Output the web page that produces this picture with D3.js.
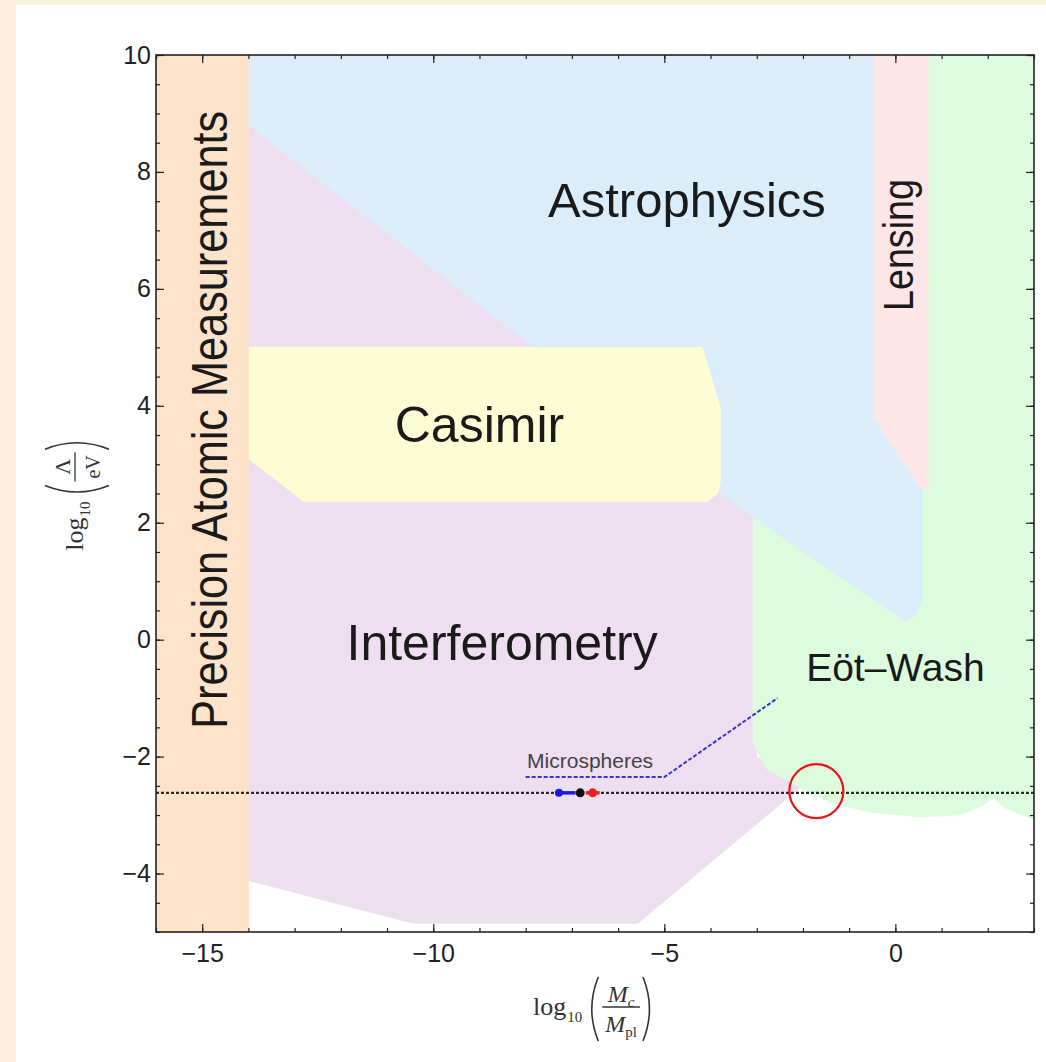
<!DOCTYPE html>
<html>
<head>
<meta charset="utf-8">
<script src="https://cdn.jsdelivr.net/npm/d3@7"></script>
<style>
  body { margin: 0; background: #fbf0dc; }
  svg { display: block; }
  .tick text { font-family: "Liberation Sans", Arial, sans-serif; font-size: 25px; fill: #222; }
  .tick line { stroke: #222; stroke-width: 1.2; }
  .region-label { font-family: "Liberation Sans", Arial, sans-serif; fill: #1a1a1a; }
  .mathlab text { font-family: "Liberation Serif", "Times New Roman", serif; fill: #333; }
  .mathlab path, .mathlab line { stroke: #333; fill: none; }
</style>
</head>
<body>
<div id="chart"></div>
<script>
// axis ticks
const xTicksMajor = [-15, -10, -5, 0];
const yTicksMajor = [-4, -2, 0, 2, 4, 6, 8, 10];
const xTicksMinor = d3.range(-16, 3.01, 1);
const yTicksMinor = d3.range(-5, 10.01, 0.5);

// excluded regions, [log10(Mc/Mpl), log10(Lambda/eV)]
const atomic = [[-16, 10], [-14, 10], [-14, -5], [-16, -5]];
const interferometry = [[-14, 9.0], [-3.0, 2.3], [-3.0, -2.0], [-2.0, -2.49], [-5.57, -4.85], [-10.44, -4.85], [-14, -4.12]];
const eotWash = [[-3.08, 2.3], [0.5, 2.3], [0.5, 10], [3, 10], [3, -3.08], [2.38, -2.88], [2.12, -2.71], [1.88, -2.84],
                 [1.4, -3.0], [0.54, -3.03], [-0.55, -2.95], [-1.41, -2.78], [-2.06, -2.54], [-2.8, -2.2], [-3.08, -1.75]];
const astrophysics = [[-14, 10], [-0.48, 10], [-0.48, 3.81], [0.58, 2.56], [0.58, 0.68], [0.43, 0.42], [0.21, 0.32],
                      [-3.08, 2.1], [-3.85, 2.55], [-14, 8.8]];
const casimir = [[-14, 5], [-4.18, 5], [-3.79, 3.98], [-3.79, 2.68], [-3.85, 2.5], [-4.07, 2.36], [-12.8, 2.36], [-14, 3.1]];
const lensing = [[-0.48, 10], [0.71, 10], [0.71, 2.6], [0.58, 2.56], [-0.48, 3.81]];

const microspheres = [[-8, -2.35], [-5, -2.35], [-2.55, -1.0]];
const dottedLevel = -2.62;
const bluePoint = [-7.28, -7.35, -6.92];   // centre, from, to
const blackPoint = [-6.82];
const redPoint = [-6.55, -6.7, -6.4];
const circleMark = [-1.71, -2.59];

const regionNames = ["Astrophysics", "Casimir", "Interferometry", "E\u00f6t\u2013Wash", "Lensing", "Precision Atomic Measurements", "Microspheres"];

const W = 1046, H = 1062;
const margin = {top: 55, right: 12, bottom: 130, left: 156};
const width = W - margin.left - margin.right;
const height = H - margin.top - margin.bottom;

const svg = d3.select("#chart").append("svg").attr("width", W).attr("height", H);
svg.append("rect").attr("width", W).attr("height", H).attr("fill", "#fbf0dc");
svg.append("rect").attr("x", 16).attr("y", 5).attr("width", W - 16).attr("height", H - 5).attr("fill", "#fff");

const g = svg.append("g").attr("transform", `translate(${margin.left},${margin.top})`);

const x = d3.scaleLinear().domain([-16, 3]).range([0, width]);
const y = d3.scaleLinear().domain([-5, 10]).range([height, 0]);

g.append("clipPath").attr("id", "plotclip")
  .append("rect").attr("width", width).attr("height", height);

const plot = g.append("g").attr("clip-path", "url(#plotclip)");

const poly = d3.line().x(d => x(d[0])).y(d => y(d[1])).curve(d3.curveLinearClosed);
const path = d3.line().x(d => x(d[0])).y(d => y(d[1]));

const regions = [
  {pts: interferometry, fill: "#eedff0"},
  {pts: eotWash, fill: "#ddfbdd"},
  {pts: astrophysics, fill: "#dbecfb"},
  {pts: casimir, fill: "#fdfdd5"},
  {pts: lensing, fill: "#fde6e8"},
  {pts: atomic, fill: "#fde3c9"}
];
plot.selectAll("path.region").data(regions).enter().append("path")
  .attr("class", "region")
  .attr("d", d => poly(d.pts))
  .attr("fill", d => d.fill)
  .attr("stroke", d => d.fill)
  .attr("stroke-width", 0.8);

// dotted reference line
plot.append("path").datum([[-16, dottedLevel], [3, dottedLevel]])
  .attr("d", path).attr("fill", "none")
  .attr("stroke", "#2a2a2a").attr("stroke-width", 2.2).attr("stroke-dasharray", "3,2");

// microspheres projection
plot.append("path").datum(microspheres)
  .attr("d", path).attr("fill", "none")
  .attr("stroke", "#3636c8").attr("stroke-width", 2).attr("stroke-dasharray", "4,2");

// measured points
plot.append("line").attr("x1", x(bluePoint[1])).attr("x2", x(bluePoint[2]))
  .attr("y1", y(dottedLevel)).attr("y2", y(dottedLevel))
  .attr("stroke", "#1a1ae0").attr("stroke-width", 3.5);
plot.append("circle").attr("cx", x(bluePoint[0])).attr("cy", y(dottedLevel)).attr("r", 4).attr("fill", "#1a1ae0");
plot.append("line").attr("x1", x(redPoint[1])).attr("x2", x(redPoint[2]))
  .attr("y1", y(dottedLevel)).attr("y2", y(dottedLevel))
  .attr("stroke", "#e8202a").attr("stroke-width", 3.5);
plot.append("circle").attr("cx", x(redPoint[0])).attr("cy", y(dottedLevel)).attr("r", 4.5).attr("fill", "#e8202a");
plot.append("circle").attr("cx", x(blackPoint[0])).attr("cy", y(dottedLevel)).attr("r", 4.5).attr("fill", "#111");

// highlight circle
g.append("circle").attr("cx", x(circleMark[0])).attr("cy", y(circleMark[1])).attr("r", 27)
  .attr("fill", "none").attr("stroke", "#e8141c").attr("stroke-width", 2.2);

// region labels
g.append("text").attr("class", "region-label").attr("x", x(-4.51)).attr("y", y(7.23))
  .attr("text-anchor", "middle").style("font-size", "49px").text(regionNames[0]);
g.append("text").attr("class", "region-label").attr("x", x(-9.0)).attr("y", y(3.38))
  .attr("text-anchor", "middle").style("font-size", "50px").text(regionNames[1]);
g.append("text").attr("class", "region-label").attr("x", x(-8.51)).attr("y", y(-0.35))
  .attr("text-anchor", "middle").style("font-size", "50px").text(regionNames[2]);
g.append("text").attr("class", "region-label").attr("x", x(0.0)).attr("y", y(-0.71))
  .attr("text-anchor", "middle").style("font-size", "39px").text(regionNames[3]);
g.append("text").attr("class", "region-label")
  .attr("transform", `translate(${x(0.38)},${y(6.75)}) rotate(-90)`)
  .attr("text-anchor", "middle").style("font-size", "42px")
  .attr("textLength", 132).attr("lengthAdjust", "spacingAndGlyphs").text(regionNames[4]);
g.append("text").attr("class", "region-label")
  .attr("transform", `translate(${x(-14.46)},${y(3.76)}) rotate(-90)`)
  .attr("text-anchor", "middle").style("font-size", "50px")
  .attr("textLength", 618).attr("lengthAdjust", "spacingAndGlyphs").text(regionNames[5]);
g.append("text").attr("class", "region-label").attr("x", x(-7.97)).attr("y", y(-2.19))
  .style("font-size", "21px").style("fill", "#444").text(regionNames[6]);

// axes, ticks inside on all four sides
function styleAxis(sel) { sel.select(".domain").remove(); }
g.append("g").attr("transform", `translate(0,${height})`)
  .call(d3.axisBottom(x).tickValues(xTicksMinor).tickSize(-4).tickFormat("")).call(styleAxis);
g.append("g").attr("transform", `translate(0,${height})`)
  .call(d3.axisBottom(x).tickValues(xTicksMajor).tickSize(-8).tickPadding(12).tickFormat(d3.format("d"))).call(styleAxis);
g.append("g")
  .call(d3.axisTop(x).tickValues(xTicksMinor).tickSize(-4).tickFormat("")).call(styleAxis);
g.append("g")
  .call(d3.axisTop(x).tickValues(xTicksMajor).tickSize(-8).tickFormat("")).call(styleAxis);
g.append("g")
  .call(d3.axisLeft(y).tickValues(yTicksMinor).tickSize(-4).tickFormat("")).call(styleAxis);
g.append("g")
  .call(d3.axisLeft(y).tickValues(yTicksMajor).tickSize(-8).tickPadding(5).tickFormat(d3.format("d"))).call(styleAxis);
g.append("g").attr("transform", `translate(${width},0)`)
  .call(d3.axisRight(y).tickValues(yTicksMinor).tickSize(-4).tickFormat("")).call(styleAxis);
g.append("g").attr("transform", `translate(${width},0)`)
  .call(d3.axisRight(y).tickValues(yTicksMajor).tickSize(-8).tickFormat("")).call(styleAxis);

g.append("rect").attr("width", width).attr("height", height)
  .attr("fill", "none").attr("stroke", "#222").attr("stroke-width", 1.6);

// log10( num / den ) axis labels
function addParts(t, parts) {
  parts.forEach(p => {
    t.append("tspan")
      .style("font-size", p.size + "px")
      .style("font-style", p.italic ? "italic" : "normal")
      .attr("dy", p.dy || 0)
      .text(p.t);
  });
}
function mathLabel(parent, tx, ty, rot, num, den) {
  const outer = parent.append("g").attr("transform", `translate(${tx},${ty}) rotate(${rot})`);
  const lab = outer.append("g").attr("class", "mathlab");
  let cx = 0;
  const logT = lab.append("text").attr("x", cx).attr("y", 0).style("font-size", "26px").text("log");
  cx += logT.node().getComputedTextLength() + 1;
  const ten = lab.append("text").attr("x", cx).attr("y", 7).style("font-size", "15px").text("10");
  cx += ten.node().getComputedTextLength() + 7;
  lab.append("path").attr("d", `M${cx + 9},-38 Q${cx - 4},-6 ${cx + 9},26`).attr("stroke-width", 1.6);
  cx += 13;
  const n = lab.append("text").attr("y", -13);
  addParts(n, num);
  const d = lab.append("text").attr("y", 17);
  addParts(d, den);
  const nw = n.node().getComputedTextLength(), dw = d.node().getComputedTextLength();
  const fw = Math.max(nw, dw) + 6;
  n.attr("x", cx + (fw - nw) / 2);
  d.attr("x", cx + (fw - dw) / 2);
  lab.append("line").attr("x1", cx).attr("x2", cx + fw).attr("y1", -8).attr("y2", -8).attr("stroke-width", 1.3);
  cx += fw + 3;
  lab.append("path").attr("d", `M${cx},-38 Q${cx + 13},-6 ${cx},26`).attr("stroke-width", 1.6);
  cx += 10;
  lab.attr("transform", `translate(${-cx / 2},0)`);
}
mathLabel(g, 593 - margin.left, 1015 - margin.top, 0,
  [{t: "M", italic: true, size: 24}, {t: "c", italic: true, size: 15, dy: 5}],
  [{t: "M", italic: true, size: 24}, {t: "pl", italic: false, size: 15, dy: 5}]);
mathLabel(g, 83 - margin.left, 495 - margin.top, -90,
  [{t: "\u039b", size: 22}],
  [{t: "eV", size: 20}]);
</script>
</body>
</html>
